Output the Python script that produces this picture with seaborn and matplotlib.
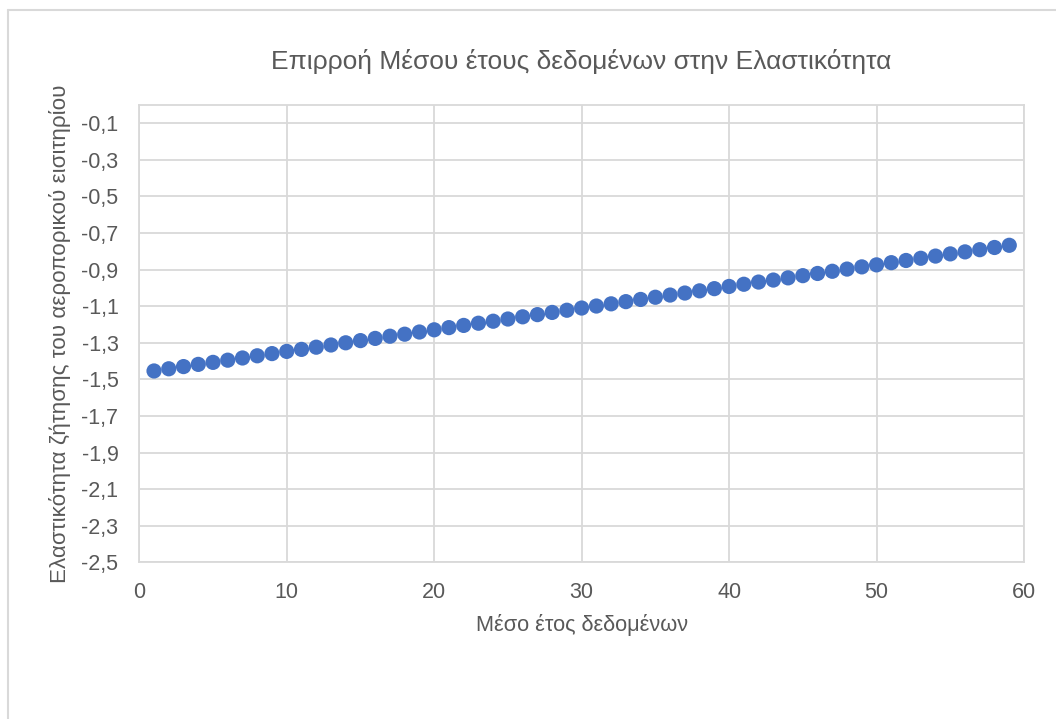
import matplotlib
matplotlib.use("Agg")
import matplotlib.pyplot as plt
from matplotlib.lines import Line2D
from matplotlib.ticker import FuncFormatter
import seaborn as sns
import pandas as pd

# Average data year (x) and resulting airfare demand elasticity (y)
mean_year = list(range(1, 60))
elasticity = [
    -1.454, -1.442, -1.430, -1.418, -1.407, -1.395, -1.383, -1.371, -1.359, -1.347,
    -1.336, -1.324, -1.312, -1.300, -1.288, -1.276, -1.264, -1.253, -1.241, -1.229,
    -1.217, -1.205, -1.193, -1.182, -1.170, -1.158, -1.146, -1.134, -1.122, -1.110,
    -1.099, -1.087, -1.075, -1.063, -1.051, -1.039, -1.028, -1.016, -1.004, -0.992,
    -0.980, -0.968, -0.957, -0.945, -0.933, -0.921, -0.909, -0.897, -0.885, -0.874,
    -0.862, -0.850, -0.838, -0.826, -0.814, -0.803, -0.791, -0.779, -0.767,
]
x_ticks = [0, 10, 20, 30, 40, 50, 60]
y_ticks = [-2.5, -2.3, -2.1, -1.9, -1.7, -1.5, -1.3, -1.1, -0.9, -0.7, -0.5, -0.3, -0.1]

title = "Επιρροή Μέσου έτους δεδομένων στην Ελαστικότητα"
x_label = "Μέσο έτος δεδομένων"
y_label = "Ελαστικότητα ζήτησης του αεροπορικού εισιτηρίου"

df = pd.DataFrame({"year": mean_year, "elasticity": elasticity})

sns.set_theme(style="white")
plt.rcParams["font.family"] = ["Liberation Sans", "DejaVu Sans"]

text_color = "#595959"
grid_color = "#D9D9D9"

fig = plt.figure(figsize=(10.56, 7.19), dpi=100)
ax = fig.add_axes([0.1319, 0.2179, 0.8378, 0.6361])

sns.scatterplot(data=df, x="year", y="elasticity", ax=ax, color="#4472C4",
                s=120, edgecolor="none", zorder=3)

ax.set_xlim(0, 60)
ax.set_ylim(-2.5, 0)
ax.set_xticks(x_ticks)
ax.set_yticks(y_ticks)
ax.yaxis.set_major_formatter(FuncFormatter(lambda v, _: f"{v:.1f}".replace(".", ",")))
ax.xaxis.set_major_formatter(FuncFormatter(lambda v, _: f"{v:.0f}"))

ax.grid(True, color=grid_color, linewidth=1.3)
ax.set_axisbelow(True)
for sp in ax.spines.values():
    sp.set_color(grid_color)
    sp.set_linewidth(1.3)

ax.tick_params(axis="both", length=0, labelsize=15.5, labelcolor=text_color)
ax.tick_params(axis="x", pad=14)
ax.tick_params(axis="y", pad=15)

ax.set_xlabel(x_label, fontsize=15.7, color=text_color, labelpad=8)
ax.set_ylabel(y_label, fontsize=16.1, color=text_color, labelpad=7)
ax.set_title(title, fontsize=19, color=text_color, pad=26)

# chart area frame (left and top edges)
fig.add_artist(Line2D([7.5 / 1056, 7.5 / 1056], [0, 1 - 9.5 / 719],
                      transform=fig.transFigure, color=grid_color, linewidth=1.5))
fig.add_artist(Line2D([7.5 / 1056, 1], [1 - 9.5 / 719, 1 - 9.5 / 719],
                      transform=fig.transFigure, color=grid_color, linewidth=1.5))

fig.savefig("out.png", dpi=100, facecolor="white")
